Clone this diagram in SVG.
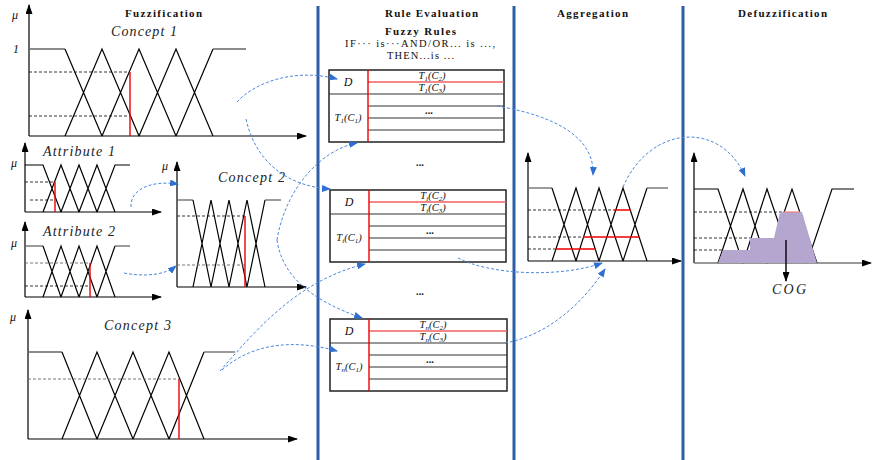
<svg xmlns="http://www.w3.org/2000/svg" width="872" height="460" viewBox="0 0 872 460">
<defs>
<marker id="ah" markerWidth="10" markerHeight="7" refX="9" refY="3.5" orient="auto" markerUnits="userSpaceOnUse"><path d="M0,0 L10,3.5 L0,7 z" fill="#000"/></marker>
<marker id="bh" markerWidth="9" markerHeight="7" refX="8" refY="3.5" orient="auto" markerUnits="userSpaceOnUse"><path d="M0,0 L9,3.5 L0,7 z" fill="#2f6fcf"/></marker>
<style>
.ax{fill:none;stroke:#000;stroke-width:1.2;marker-end:url(#ah)}
.axg{fill:none;stroke:#777;stroke-width:1.4;marker-end:url(#ah)}
.mf{fill:none;stroke:#000;stroke-width:1.2}
.sh{fill:none;stroke:#666;stroke-width:1.3}
.ds{fill:none;stroke:#000;stroke-width:0.8;stroke-dasharray:3 2}
.dsg{fill:none;stroke:#777;stroke-width:1;stroke-dasharray:3 2}
.rd{fill:none;stroke:#e00;stroke-width:1.4}
.sep{stroke:#2e5ea6;stroke-width:3}
.con{fill:none;stroke:#4a88dd;stroke-width:1;stroke-dasharray:3 2;marker-end:url(#bh)}
.ttl{font-family:"Liberation Serif","Times New Roman",serif;font-weight:bold;font-size:11px;fill:#111}
.lbl{font-family:"Liberation Serif","Times New Roman",serif;font-style:italic;font-size:14px;fill:#222}
.mu{font-family:"Liberation Serif","Times New Roman",serif;font-style:italic;font-size:12px;fill:#111}
.tx{font-family:"Liberation Serif","Times New Roman",serif;font-size:10.5px;fill:#111}
.tt{font-family:"Liberation Serif","Times New Roman",serif;font-style:italic;font-size:10.5px;fill:#111;text-anchor:middle}
.tb{fill:#fff;stroke:#222;stroke-width:1.5}
.rl{stroke:#333;stroke-width:1.2}
.rv{stroke:#e00;stroke-width:1.4}
.rh{stroke:#f06060;stroke-width:1.4}
</style>
</defs>
<rect width="872" height="460" fill="#fff"/>

<g id="separators">
<line class="sep" x1="318" y1="6" x2="318" y2="460"/>
<line class="sep" x1="514" y1="6" x2="514" y2="460"/>
<line class="sep" x1="683" y1="6" x2="683" y2="460"/>
</g>

<g id="titles">
<text class="ttl" x="125" y="17" textLength="77" lengthAdjust="spacing">Fuzzification</text>
<text class="ttl" x="385" y="17" textLength="93" lengthAdjust="spacing">Rule Evaluation</text>
<text class="ttl" x="557" y="17" textLength="71" lengthAdjust="spacing">Aggregation</text>
<text class="ttl" x="738" y="17" textLength="89" lengthAdjust="spacing">Defuzzification</text>
<text class="ttl" x="385" y="35" textLength="71" lengthAdjust="spacing">Fuzzy Rules</text>
<text class="tx" x="345" y="47" textLength="150" lengthAdjust="spacing">IF··· is···AND/OR...  is ...,</text>
<text class="tx" x="387" y="59" textLength="67" lengthAdjust="spacing">THEN...is ...</text>
</g>

<g id="concept1">
<path class="ax" d="M29,136 V5"/>
<path class="ax" d="M29,136 H306"/>
<text class="mu" x="12" y="19">μ</text>
<text class="mu" x="13" y="53">1</text>
<text class="lbl" x="111" y="36" textLength="66" lengthAdjust="spacing">Concept 1</text>
<path class="sh" d="M29,49 H65"/>
<path class="mf" d="M65,49 L102,136 M65,136 L102,49 L139,136 M102,136 L139,49 L176,136 M139,136 L176,49 L213,136 M176,136 L213,49"/>
<path class="sh" d="M213,49 H246"/>
<path class="ds" d="M29,72 H130 M29,116 H130"/>
<path class="rd" d="M130,72 V136"/>
</g>

<g id="attribute1">
<path class="ax" d="M25,212 V143"/>
<path class="ax" d="M25,212 H161"/>
<text class="mu" x="11" y="167">μ</text>
<text class="lbl" x="43" y="156" textLength="72" lengthAdjust="spacing">Attribute 1</text>
<path class="mf" d="M25,165 H43 L61,212 M43,212 L61,165 L79,212 M61,212 L79,165 L97,212 M79,212 L97,165 L115,212 M97,212 L115,165 H130"/>
<path class="ds" d="M25,182 H55 M30,200 H55"/>
<path class="rd" d="M55,182 V212"/>
</g>

<g id="attribute2">
<path class="ax" d="M25,297 V222"/>
<path class="ax" d="M25,297 H161"/>
<text class="mu" x="11" y="247">μ</text>
<text class="lbl" x="43" y="236" textLength="72" lengthAdjust="spacing">Attribute 2</text>
<path class="sh" d="M25,246 H43"/>
<path class="mf" d="M43,246 L61,297 M43,297 L61,246 L79,297 M61,297 L79,246 L97,297 M79,297 L97,246 L115,297 M97,297 L115,246"/>
<path class="sh" d="M115,246 H130"/>
<path class="dsg" d="M25,263 H90"/>
<path class="ds" d="M25,286 H90"/>
<path class="rd" d="M90,263 V297"/>
</g>

<g id="concept2">
<path class="ax" d="M177,287 V162"/>
<path class="ax" d="M177,287 H306"/>
<text class="mu" x="162" y="170">μ</text>
<text class="lbl" x="218" y="182" textLength="67" lengthAdjust="spacing">Concept 2</text>
<path class="sh" d="M177,200 H193"/>
<path class="mf" d="M193,200 L211,287 M193,287 L211,200 L229,287 M211,287 L229,200 L247,287 M229,287 L247,200 L265,287 M247,287 L265,200"/>
<path class="sh" d="M265,200 H281"/>
<path class="ds" d="M177,216 H245"/>
<path class="dsg" d="M177,265 H245"/>
<path class="rd" d="M245,216 V287"/>
</g>

<g id="concept3">
<path class="ax" d="M28,439 V310"/>
<path class="ax" d="M28,439 H297"/>
<text class="mu" x="10" y="321">μ</text>
<text class="lbl" x="104" y="330" textLength="67" lengthAdjust="spacing">Concept 3</text>
<path class="sh" d="M28,352 H62"/>
<path class="mf" d="M62,352 L97,439 M62,439 L97,352 L133,439 M97,439 L133,352 L169,439 M133,439 L169,352 L204,439 M169,439 L204,352"/>
<path class="sh" d="M204,352 H235"/>
<path class="dsg" d="M28,379 H179"/>
<path class="rd" d="M179,379 V439"/>
</g>

<g id="rule1" transform="translate(329,70)">
<rect class="tb" x="0" y="0" width="175" height="72"/>
<line class="rl" x1="0" y1="24" x2="175" y2="24"/>
<line class="rl" x1="39" y1="36" x2="175" y2="36"/>
<line class="rl" x1="39" y1="48" x2="175" y2="48"/>
<line class="rl" x1="39" y1="60" x2="175" y2="60"/>
<line class="rh" x1="39" y1="12" x2="175" y2="12"/>
<line class="rv" x1="39" y1="0" x2="39" y2="72"/>
<text class="tt" x="19" y="16" style="font-size:12px">D</text>
<text class="tt" x="103" y="9">T<tspan font-size="7" dy="1.5">1</tspan><tspan dy="-1.5">(C</tspan><tspan font-size="7" dy="1.5">2</tspan><tspan dy="-1.5">)</tspan></text>
<text class="tt" x="103" y="21">T<tspan font-size="7" dy="1.5">1</tspan><tspan dy="-1.5">(C</tspan><tspan font-size="7" dy="1.5">3</tspan><tspan dy="-1.5">)</tspan></text>
<text class="tt" x="19" y="51">T<tspan font-size="7" dy="1.5">1</tspan><tspan dy="-1.5">(C</tspan><tspan font-size="7" dy="1.5">1</tspan><tspan dy="-1.5">)</tspan></text>
<text class="tt" x="100" y="44" style="font-style:normal;font-weight:bold">...</text>
</g>

<text class="tt" x="420" y="166" style="font-style:normal;font-weight:bold">...</text>

<g id="rule2" transform="translate(330,190)">
<rect class="tb" x="0" y="0" width="176" height="72"/>
<line class="rl" x1="0" y1="24" x2="176" y2="24"/>
<line class="rl" x1="39" y1="36" x2="176" y2="36"/>
<line class="rl" x1="39" y1="48" x2="176" y2="48"/>
<line class="rl" x1="39" y1="60" x2="176" y2="60"/>
<line class="rh" x1="39" y1="12" x2="176" y2="12"/>
<line class="rv" x1="39" y1="0" x2="39" y2="72"/>
<text class="tt" x="19" y="16" style="font-size:12px">D</text>
<text class="tt" x="103" y="9">T<tspan font-size="7" dy="1.5">i</tspan><tspan dy="-1.5">(C</tspan><tspan font-size="7" dy="1.5">2</tspan><tspan dy="-1.5">)</tspan></text>
<text class="tt" x="103" y="21">T<tspan font-size="7" dy="1.5">i</tspan><tspan dy="-1.5">(C</tspan><tspan font-size="7" dy="1.5">3</tspan><tspan dy="-1.5">)</tspan></text>
<text class="tt" x="19" y="51">T<tspan font-size="7" dy="1.5">i</tspan><tspan dy="-1.5">(C</tspan><tspan font-size="7" dy="1.5">1</tspan><tspan dy="-1.5">)</tspan></text>
<text class="tt" x="100" y="44" style="font-style:normal;font-weight:bold">...</text>
</g>

<text class="tt" x="420" y="295" style="font-style:normal;font-weight:bold">...</text>

<g id="rule3" transform="translate(330,319)">
<rect class="tb" x="0" y="0" width="177" height="72"/>
<line class="rl" x1="0" y1="24" x2="177" y2="24"/>
<line class="rl" x1="39" y1="36" x2="177" y2="36"/>
<line class="rl" x1="39" y1="48" x2="177" y2="48"/>
<line class="rl" x1="39" y1="60" x2="177" y2="60"/>
<line class="rh" x1="39" y1="12" x2="177" y2="12"/>
<line class="rv" x1="39" y1="0" x2="39" y2="72"/>
<text class="tt" x="19" y="16" style="font-size:12px">D</text>
<text class="tt" x="103" y="9">T<tspan font-size="7" dy="1.5">n</tspan><tspan dy="-1.5">(C</tspan><tspan font-size="7" dy="1.5">2</tspan><tspan dy="-1.5">)</tspan></text>
<text class="tt" x="103" y="21">T<tspan font-size="7" dy="1.5">n</tspan><tspan dy="-1.5">(C</tspan><tspan font-size="7" dy="1.5">3</tspan><tspan dy="-1.5">)</tspan></text>
<text class="tt" x="19" y="51">T<tspan font-size="7" dy="1.5">n</tspan><tspan dy="-1.5">(C</tspan><tspan font-size="7" dy="1.5">1</tspan><tspan dy="-1.5">)</tspan></text>
<text class="tt" x="100" y="44" style="font-style:normal;font-weight:bold">...</text>
</g>

<g id="aggregation">
<path class="ax" d="M528,261 V153"/>
<path class="ax" d="M528,261 H681"/>
<path class="sh" d="M528,188 H552"/>
<path class="mf" d="M552,188 L576,261 M552,261 L576,188 L599,261 M576,261 L599,188 L623,261 M599,261 L623,188 L647,261 M623,261 L647,188"/>
<path class="sh" d="M647,188 H668"/>
<path class="ds" d="M528,210 H614 M528,237 H583 M528,249 H555"/>
<path class="rd" d="M614,210 H631 M583,237 H639 M555,249 H596"/>
</g>

<g id="defuzzification">
<path class="ax" d="M694,263 V153"/>
<path class="axg" d="M694,263 H871"/>
<path class="ds" d="M694,212 H783 M694,238 H750 M694,250 H723"/>
<path class="mf" d="M694,189 H718 L743,263 M718,263 L743,189 L767,263 M743,263 L767,189 L792,263 M767,263 L792,189 L817,263 M807,263 L832,189 H854"/>
<polygon points="718,263 723,250 750,250 750,238 774,238 780,212 802,212 817,263" fill="#b5a6d0"/>
<path d="M783,212 H800" stroke="#f08080" stroke-width="1.2"/>
<path class="ax" d="M786,240 V281" style="stroke-width:1.4"/>
<text class="lbl" x="772" y="294" textLength="34" lengthAdjust="spacing">COG</text>
</g>

<g id="connectors">
<path class="con" d="M237,102 C255,82 295,68 337,79"/>
<path class="con" d="M246,119 C255,160 285,186 330,189"/>
<path class="con" d="M277,240 C285,190 320,150 357,143"/>
<path class="con" d="M277,240 C282,275 310,300 362,318"/>
<path class="con" d="M220,371 C260,325 300,280 365,264"/>
<path class="con" d="M222,370 C250,345 290,338 337,351"/>
<path class="con" d="M131,207 C130,190 150,180 178,184"/>
<path class="con" d="M124,273 C145,277 165,275 176,266"/>
<path class="con" d="M497,106 C550,115 595,135 593,175"/>
<path class="con" d="M458,258 C490,275 560,278 602,263"/>
<path class="con" d="M505,343 C550,335 585,300 605,269"/>
<path class="con" d="M623,187 C650,125 720,120 745,176"/>
</g>
</svg>
